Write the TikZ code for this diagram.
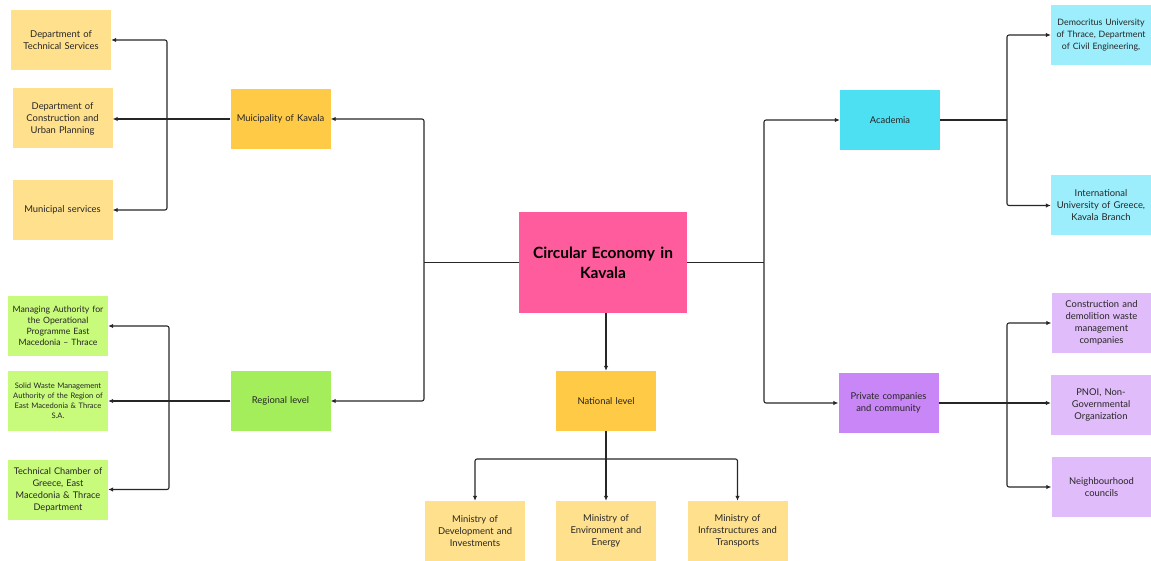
\documentclass[tikz,border=0pt]{standalone}
\usepackage{fontspec}
\setmainfont{Lato}
\usetikzlibrary{arrows.meta}

\definecolor{paleyellow}{HTML}{FFE08C}
\definecolor{gold}{HTML}{FFCA45}
\definecolor{hotpink}{HTML}{FF5C9D}
\definecolor{palegreen}{HTML}{C8FA7C}
\definecolor{leafgreen}{HTML}{A3EE5A}
\definecolor{aqua}{HTML}{4DE0F3}
\definecolor{paleaqua}{HTML}{9DEEFC}
\definecolor{violet}{HTML}{C986F6}
\definecolor{lilac}{HTML}{E1BCFA}

\tikzset{
    card/.style={rectangle, minimum width=100pt, minimum height=60pt,
        text width=98pt, align=center, inner sep=0pt, text=black!85,
        font=\fontsize{9.4}{12}\selectfont},
    link/.style={line width=1.1pt, black!85, rounded corners=2pt},
    arrow/.style={link, -{Latex[length=5pt,width=4.5pt]}}
}

\begin{document}
\begin{tikzpicture}[x=1pt,y=-1pt]
    \useasboundingbox (0,0) rectangle (1151,561);

    % centre
    \node[card, fill=hotpink, minimum width=168pt, minimum height=101pt, text width=164pt,
          font=\fontsize{15.5}{20}\selectfont\bfseries, text=black] (core) at (603,262.5)
          {Circular Economy in\\Kavala};

    % municipality branch
    \node[card, fill=gold] (muni) at (280.5,119) {Muicipality of Kavala};
    \node[card, fill=paleyellow] (techsrv) at (61,40) {Department of\\Technical Services};
    \node[card, fill=paleyellow] (urban) at (62.5,118.5) {Department of\\Construction and\\Urban Planning};
    \node[card, fill=paleyellow] (munsrv) at (62.5,210) {Municipal services};

    % regional branch
    \node[card, fill=leafgreen] (region) at (280.5,401) {Regional level};
    \node[card, fill=palegreen, font=\fontsize{8.7}{11}\selectfont] (authority) at (58,326)
          {Managing Authority for\\the Operational\\Programme East\\Macedonia -- Thrace};
    \node[card, fill=palegreen, font=\fontsize{7.6}{10}\selectfont] (waste) at (58,401)
          {Solid Waste Management\\Authority of the Region of\\East Macedonia \& Thrace\\S.A.};
    \node[card, fill=palegreen, font=\fontsize{9.2}{12}\selectfont] (chamber) at (58,489.5)
          {Technical Chamber of\\Greece, East\\Macedonia \& Thrace\\Department};

    % national branch
    \node[card, fill=gold] (nation) at (606,401) {National level};
    \node[card, fill=paleyellow] (develop) at (475,531) {Ministry of\\Development and\\Investments};
    \node[card, fill=paleyellow] (environ) at (606,531) {Ministry of\\Environment and\\Energy};
    \node[card, fill=paleyellow] (transp) at (737.5,531) {Ministry of\\Infrastructures and\\Transports};

    % academia branch
    \node[card, fill=aqua] (academia) at (890,120) {Academia};
    \node[card, fill=paleaqua, font=\fontsize{8.8}{12}\selectfont] (duth) at (1101,35)
          {Democritus University\\of Thrace, Department\\of Civil Engineering,};
    \node[card, fill=paleaqua] (ihu) at (1101,205.5) {International\\University of Greece,\\Kavala Branch};

    % private branch
    \node[card, fill=violet] (private) at (888.5,403) {Private companies\\and community};
    \node[card, fill=lilac] (demol) at (1101.5,323) {Construction and\\demolition waste\\management\\companies};
    \node[card, fill=lilac] (pnoi) at (1101,405) {PNOI, Non-\\Governmental\\Organization};
    \node[card, fill=lilac] (hood) at (1101.5,487) {Neighbourhood\\councils};

    % junctions
    \coordinate (leftfork) at (424,262.5);
    \coordinate (rightfork) at (764,262.5);
    \coordinate (munifork) at (167,119);
    \coordinate (regfork) at (169,401);
    \coordinate (natfork) at (606,459);
    \coordinate (acafork) at (1007,120);
    \coordinate (privfork) at (1007,403);

    % connectors
    \draw[link] (core.west) -- (leftfork);
    \draw[arrow] (leftfork) |- (muni.east);
    \draw[arrow] (leftfork) |- (region.east);
    \draw[link] (core.east) -- (rightfork);
    \draw[arrow] (rightfork) |- (academia.west);
    \draw[arrow] (rightfork) |- (private.west);
    \draw[arrow] (nation.north |- core.south) -- (nation.north);

    \draw[link] (muni.west) -- (munifork);
    \draw[arrow] (munifork) |- (techsrv.east);
    \draw[arrow] (munifork) -- (urban.east |- munifork);
    \draw[arrow] (munifork) |- (munsrv.east);

    \draw[link] (region.west) -- (regfork);
    \draw[arrow] (regfork) |- (authority.east);
    \draw[arrow] (regfork) -- (waste.east);
    \draw[arrow] (regfork) |- (chamber.east);

    \draw[link] (nation.south) -- (natfork);
    \draw[arrow] (natfork) -| (develop.north);
    \draw[arrow] (natfork) -- (environ.north);
    \draw[arrow] (natfork) -| (transp.north);

    \draw[link] (academia.east) -- (acafork);
    \draw[arrow] (acafork) |- (duth.west);
    \draw[arrow] (acafork) |- (ihu.west);

    \draw[link] (private.east) -- (privfork);
    \draw[arrow] (privfork) |- (demol.west);
    \draw[arrow] (privfork) -- (pnoi.west |- privfork);
    \draw[arrow] (privfork) |- (hood.west);
\end{tikzpicture}
\end{document}
